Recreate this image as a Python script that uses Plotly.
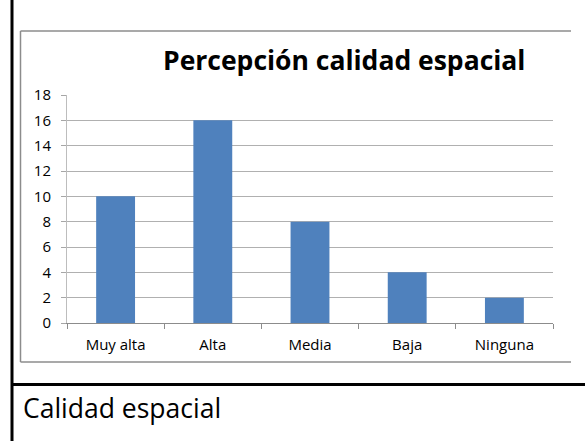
import plotly.graph_objects as go

# data
categorias = ["Muy alta", "Alta", "Media", "Baja", "Ninguna"]
valores = [10, 16, 8, 4, 2]
y_ticks = [0, 2, 4, 6, 8, 10, 12, 14, 16, 18]

W, H = 585, 441
# plot area in pixels
L, R, T, B = 67, 553, 95, 323


def px_x(x):
    return (x - L) / (R - L)


def px_y(y):
    return (B - y) / (B - T)


fig = go.Figure()
fig.add_trace(go.Bar(x=categorias, y=valores, marker_color="#4F81BD",
                     marker_line_width=0, width=0.4))

font_tick = dict(family="Open Sans", size=15, color="#000000")

fig.update_layout(
    width=W, height=H,
    margin=dict(l=L, r=W - R, t=T, b=H - B, autoexpand=False),
    paper_bgcolor="white", plot_bgcolor="white",
    showlegend=False,
    xaxis=dict(showline=True, linecolor="#8C8C8C", linewidth=1,
               ticks="outside", tickson="boundaries", ticklen=5,
               tickcolor="#8C8C8C", tickfont=font_tick, showgrid=False,
               ticklabelstandoff=8, fixedrange=True),
    yaxis=dict(range=[0, 18], tickvals=y_ticks, showline=True,
               linecolor="#BDBDBD", linewidth=1, ticks="outside",
               ticklen=5, tickcolor="#A6A6A6", tickfont=font_tick,
               showgrid=True, gridcolor="#B0B0B0", gridwidth=1,
               ticklabelstandoff=7, zeroline=False),
)

# chart title
fig.add_annotation(text="<b>Percepción calidad espacial</b>",
                   xref="paper", yref="paper", x=px_x(344), y=px_y(60),
                   showarrow=False, xanchor="center", yanchor="middle",
                   font=dict(family="Open Sans", size=26.5, color="#000000"))

# chart border (top, left, bottom; right edge is cut off in the source)
border = dict(color="#8C8C8C", width=1.5)
for (a, b, c, d) in [(20.5, 571, 31, 31), (20.5, 20.5, 31, 362), (20.5, 571, 362, 362)]:
    fig.add_shape(type="line", xref="paper", yref="paper",
                  x0=px_x(a), x1=px_x(b), y0=px_y(c), y1=px_y(d), line=border)

# document table lines
fig.add_shape(type="line", xref="paper", yref="paper",
              x0=px_x(12), x1=px_x(12), y0=px_y(0), y1=px_y(441),
              line=dict(color="#000000", width=3))
fig.add_shape(type="line", xref="paper", yref="paper",
              x0=px_x(12), x1=px_x(585), y0=px_y(384.5), y1=px_y(384.5),
              line=dict(color="#000000", width=3))

# caption
fig.add_annotation(text="Calidad espacial", xref="paper", yref="paper",
                   x=px_x(21), y=px_y(408), showarrow=False,
                   xanchor="left", yanchor="middle",
                   font=dict(family="Open Sans", size=26.5, color="#000000"))

fig.write_html("out.html", config={"displayModeBar": False},
               post_script="document.body.style.margin='0';")
